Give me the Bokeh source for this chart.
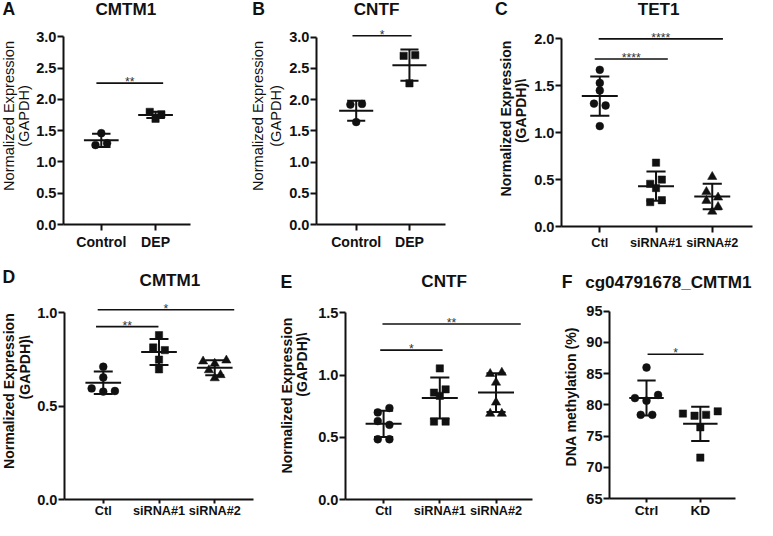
import numpy as np
from bokeh.plotting import figure
from bokeh.models import Range1d, FixedTicker, NumeralTickFormatter, Label, ColumnDataSource
from bokeh.layouts import row, column
from bokeh.embed import file_html
from bokeh.resources import INLINE

# ---------------- data ----------------
A_categories = ["Control", "DEP"]
A_values = [[1.46, 1.27, 1.30], [1.80, 1.69, 1.76]]
A_means = [1.345, 1.75]
A_errors = [0.105, 0.05]
A_sig = [(-0.09, 1.14, 2.26, "**")]

B_categories = ["Control", "DEP"]
B_values = [[1.92, 1.93, 1.64], [2.70, 2.71, 2.26]]
B_means = [1.82, 2.55]
B_errors = [0.16, 0.25]
B_sig = [(-0.07, 1.04, 3.02, "*")]

C_categories = ["Ctl", "siRNA#1", "siRNA#2"]
C_values = [[1.67, 1.45, 1.53, 1.31, 1.29, 1.07],
            [0.68, 0.455, 0.50, 0.41, 0.26, 0.28],
            [0.53, 0.37, 0.31, 0.275, 0.21, 0.16]]
C_means = [1.39, 0.43, 0.32]
C_errors = [0.21, 0.155, 0.135]
C_sig = [(-0.09, 1.21, 1.785, "****"), (-0.02, 2.19, 2.0, "****")]

D_categories = ["Ctl", "siRNA#1", "siRNA#2"]
D_values = [[0.711, 0.654, 0.595, 0.578, 0.581],
            [0.88, 0.814, 0.80, 0.749, 0.697],
            [0.74, 0.728, 0.745, 0.693, 0.667, 0.65]]
D_means = [0.625, 0.79, 0.706]
D_errors = [0.06, 0.07, 0.04]
D_sig = [(-0.13, 0.99, 0.926, "**"), (-0.10, 2.35, 1.016, "*")]

E_categories = ["Ctl", "siRNA#1", "siRNA#2"]
E_values = [[0.70, 0.735, 0.63, 0.60, 0.484, 0.484],
            [1.053, 0.859, 0.885, 0.833, 0.626, 0.626],
            [1.01, 1.02, 0.94, 0.78, 0.69, 0.69]]
E_means = [0.608, 0.815, 0.859]
E_errors = [0.105, 0.165, 0.155]
E_sig = [(-0.06, 1.05, 1.20, "*"), (-0.02, 2.44, 1.41, "**")]

F_categories = ["Ctrl", "KD"]
F_values = [[85.97, 81.07, 80.66, 81.58, 78.4, 78.4],
            [78.6, 78.25, 78.4, 78.96, 76.4, 71.55]]
F_means = [81.07, 76.95]
F_errors = [2.8, 2.75]
F_sig = [(0.02, 1.06, 88.1, "*")]

AB_ticks = [0.0, 0.5, 1.0, 1.5, 2.0, 2.5, 3.0]
C_ticks = [0.0, 0.5, 1.0, 1.5, 2.0]
D_ticks = [0.0, 0.5, 1.0]
E_ticks = [0.0, 0.5, 1.0, 1.5]
F_ticks = [65, 70, 75, 80, 85, 90, 95]

# ---------------- layout (reference pixel space, scaled to fit) ----------------
SX = 757 / 773
SY = 520 / 536
FS = 0.975
FONT = "Liberation Sans"
INK = "#111111"
MARKERS = ["circle", "square", "triangle"]

TOP = dict(y0=0, strip=20, y1=265)
BOT = dict(y0=265, strip=300, y1=536)

panels = [
    dict(rowb=TOP, cats=A_categories, vals=A_values, means=A_means, errs=A_errors, sig=A_sig,
         x0=0, x1=255, ax=62, ay=231, cat0=101, sp=56, k=64.5, y0=0.0, tickw=28,
         ticks=AB_ticks, fmt="0.0", xend=193, xfont=14.5, xtick=(6, 3),
         letter=("A", 2, 9), title=("CMTM1", 128, 9, "center"),
         ylab=[("Normalized Expression", 8.5, 135), ("(GAPDH)", 24.5, 135)], ybold=False),
    dict(rowb=TOP, cats=B_categories, vals=B_values, means=B_means, errs=B_errors, sig=B_sig,
         x0=255, x1=500, ax=321, ay=231, cat0=362, sp=55, k=64.4, y0=0.0, tickw=28,
         ticks=AB_ticks, fmt="0.0", xend=454, xfont=14.5, xtick=(6, 3),
         letter=("B", 257, 9), title=("CNTF", 384, 9, "center"),
         ylab=[("Normalized Expression", 263, 135), ("(GAPDH)", 281, 135)], ybold=False),
    dict(rowb=TOP, cats=C_categories, vals=C_values, means=C_means, errs=C_errors, sig=C_sig,
         x0=500, x1=773, ax=570.5, ay=233.3, cat0=610, sp=58, k=96.7, y0=0.0, tickw=28,
         ticks=C_ticks, fmt="0.0", xend=768, xfont=13, xtick=(6, 3),
         letter=("C", 505, 9), title=("TET1", 672, 9, "center"),
         ylab=[("Normalized Expression", 516, 137), ("(GAPDH)\\", 532, 128)], ybold=True),
    dict(rowb=BOT, cats=D_categories, vals=D_values, means=D_means, errs=D_errors, sig=D_sig,
         x0=0, x1=262, ax=63, ay=515.7, cat0=103, sp=57.5, k=193.4, y0=0.0, tickw=28,
         ticks=D_ticks, fmt="0.0", xend=258, xfont=13, xtick=(4, 0),
         letter=("D", 2, 285), title=("CMTM1", 173, 289, "center"),
         ylab=[("Normalized Expression", 8.5, 413), ("(GAPDH)\\", 25, 386)], ybold=True),
    dict(rowb=BOT, cats=E_categories, vals=E_values, means=E_means, errs=E_errors, sig=E_sig,
         x0=262, x1=548, ax=350, ay=515.7, cat0=389.3, sp=58, k=128.9, y0=0.0, tickw=28,
         ticks=E_ticks, fmt="0.0", xend=543, xfont=13, xtick=(4, 0),
         letter=("E", 286, 290), title=("CNTF", 453, 290, "center"),
         ylab=[("Normalized Expression", 292.5, 418), ("(GAPDH)\\", 308, 383)], ybold=True),
    dict(rowb=BOT, cats=F_categories, vals=F_values, means=F_means, errs=F_errors, sig=F_sig,
         x0=548, x1=773, ax=620, ay=514, cat0=658.3, sp=55.7, k=6.47, y0=65.0, tickw=24,
         ticks=F_ticks, fmt="0", xend=750, xfont=14, xtick=(4, 0),
         letter=("F", 573, 290), title=("cg04791678_CMTM1", 597, 291, "left"),
         ylab=[("DNA methylation (%)", 583, 420)], ybold=True),
]


def swarm_offsets(vals, k, step=12.0, thresh=6.5):
    """Spread points that share a row (in pixel space) symmetrically."""
    vals = list(vals)
    order = sorted(range(len(vals)), key=lambda i: -vals[i])
    rows, cur = [], []
    for i in order:
        if cur and (vals[cur[0]] - vals[i]) * k < thresh:
            cur.append(i)
        else:
            if cur:
                rows.append(cur)
            cur = [i]
    rows.append(cur)
    off = [0.0] * len(vals)
    for r in rows:
        r = sorted(r)
        n = len(r)
        for j, i in enumerate(r):
            off[i] = (j - (n - 1) / 2.0) * step
    return off


def text_fig(xa, xb, ya, yb):
    """A bare figure whose data space is the (scaled) page pixel space."""
    sx0, sx1 = round(xa * SX), round(xb * SX)
    sy0, sy1 = round(ya * SY), round(yb * SY)
    f = figure(width=sx1 - sx0, height=sy1 - sy0,
               x_range=Range1d(sx0, sx1), y_range=Range1d(-sy1, -sy0),
               x_axis_location=None, y_axis_location=None,
               output_backend="svg", toolbar_location=None,
               min_border_left=0, min_border_right=0, min_border_top=0, min_border_bottom=0,
               outline_line_color=None, border_fill_color="white", background_fill_color="white")
    f.title.visible = False
    f.xgrid.visible = False
    f.ygrid.visible = False
    return f


def page_label(text, px, py, **kw):
    return Label(x=px * SX, y=-py * SY, text=text, text_font=FONT, text_color=INK, **kw)


def make_panel(c):
    rb = c["rowb"]
    x0, x1 = c["x0"], c["x1"]
    tickw = c["tickw"]
    # strip with letter and title
    strip = text_fig(x0, x1, rb["y0"], rb["strip"])
    lt, lx, ly = c["letter"]
    strip.add_layout(page_label(lt, lx, ly, text_align="left", text_baseline="middle",
                                text_font_style="bold", text_font_size=f"{18 * FS:.1f}px"))
    tt, tx, ty, ta = c["title"]
    strip.add_layout(page_label(tt, tx, ty, text_align=ta, text_baseline="middle",
                                text_font_style="bold", text_font_size=f"{17.5 * FS:.1f}px"))

    # left strip with the y axis title
    ax_s = round(c["ax"] * SX)
    left_px = ax_s - tickw          # scaled page x where the main figure starts
    left = text_fig(x0, left_px / SX, rb["strip"], rb["y1"])
    ystyle = "bold" if c["ybold"] else "normal"
    ysize = f"{(14.5 if c['ybold'] else 15) * FS:.1f}px"
    for txt, lx2, ly2 in c["ylab"]:
        left.add_layout(page_label(txt, lx2, ly2, angle=np.pi / 2, text_align="center",
                                   text_baseline="middle", text_font_style=ystyle,
                                   text_font_size=ysize))

    # main plot
    W = round(x1 * SX) - left_px
    top_s = round(rb["strip"] * SY)
    H = round(rb["y1"] * SY) - top_s
    bb = round(rb["y1"] * SY) - round(c["ay"] * SY)
    fw = W - tickw
    fh = H - bb
    xs = -(c["cat0"] - c["ax"]) / c["sp"]
    xe = xs + fw / (c["sp"] * SX)
    ys = c["y0"]
    ye = ys + fh / (c["k"] * SY)

    p = figure(width=W, height=H, x_range=Range1d(xs, xe), y_range=Range1d(ys, ye),
               output_backend="svg", toolbar_location=None,
               min_border_left=tickw, min_border_right=0, min_border_top=0, min_border_bottom=bb,
               outline_line_color=None, border_fill_color="white", background_fill_color="white")
    p.title.visible = False
    p.xgrid.visible = False
    p.ygrid.visible = False

    for axis in (p.xaxis[0], p.yaxis[0]):
        axis.axis_line_width = 2
        axis.axis_line_color = INK
        axis.major_tick_line_width = 2
        axis.major_tick_line_color = INK
        axis.major_tick_in = 0
        axis.minor_tick_line_color = None
        axis.major_label_text_font = FONT
        axis.major_label_text_font_style = "bold"
        axis.major_label_text_color = INK
    yax = p.yaxis[0]
    yax.ticker = FixedTicker(ticks=c["ticks"])
    yax.formatter = NumeralTickFormatter(format=c["fmt"])
    yax.bounds = (c["ticks"][0], c["ticks"][-1])
    yax.major_tick_out = 6
    yax.major_label_standoff = 1
    yax.major_label_text_font_size = f"{15 * FS:.1f}px"

    xax = p.xaxis[0]
    n = len(c["cats"])
    xax.ticker = FixedTicker(ticks=list(range(n)))
    xax.major_label_overrides = {i: cat for i, cat in enumerate(c["cats"])}
    xax.bounds = (xs, xs + (c["xend"] - c["ax"]) / c["sp"])
    xax.major_label_text_font_size = f"{c['xfont'] * FS:.1f}px"
    xax.major_tick_out, xax.major_label_standoff = c["xtick"]

    for i, vals in enumerate(c["vals"]):
        offs = swarm_offsets(vals, c["k"])
        src = ColumnDataSource(dict(x=[i + o / c["sp"] for o in offs], y=list(vals)))
        mk = MARKERS[i % 3]
        size = {"circle": 8, "square": 7.5, "triangle": 9.5}[mk] * FS
        p.scatter("x", "y", source=src, marker=mk, size=size, fill_color=INK,
                  line_color=INK, line_width=0.5)

    idx = list(range(n))
    m = np.array(c["means"])
    e = np.array(c["errs"])
    mh, ch = 0.32, 0.17
    seg = ColumnDataSource(dict(
        x0=[i - mh for i in idx] + idx + [i - ch for i in idx] + [i - ch for i in idx],
        x1=[i + mh for i in idx] + idx + [i + ch for i in idx] + [i + ch for i in idx],
        y0=list(m) + list(m - e) + list(m + e) + list(m - e),
        y1=list(m) + list(m + e) + list(m + e) + list(m - e)))
    p.segment("x0", "y0", "x1", "y1", source=seg, line_color=INK, line_width=2)

    sx0, sx1, sy, st = zip(*c["sig"])
    p.segment(x0=list(sx0), y0=list(sy), x1=list(sx1), y1=list(sy),
              line_color=INK, line_width=1.6)
    for a, b, yv, t in c["sig"]:
        p.add_layout(Label(x=(a + b) / 2, y=yv, text=t, text_align="center",
                           text_baseline="alphabetic", y_offset=1,
                           text_font=FONT, text_font_size=f"{12.5 * FS:.1f}px",
                           text_color="#333333"))

    return column(strip, row(left, p, spacing=0), spacing=0)


blocks = [make_panel(c) for c in panels]
layout = column(row(blocks[0], blocks[1], blocks[2], spacing=0),
                row(blocks[3], blocks[4], blocks[5], spacing=0), spacing=0)

open("out.html", "w").write(file_html(layout, INLINE))
